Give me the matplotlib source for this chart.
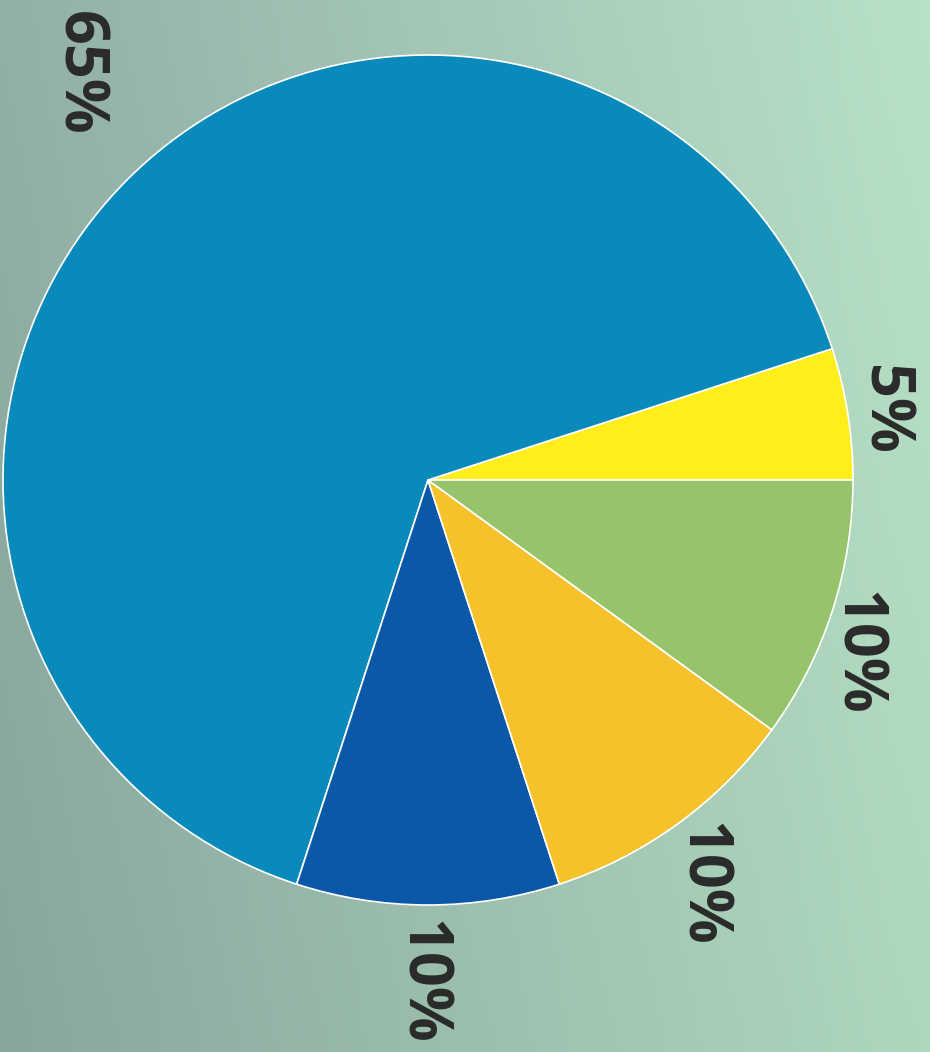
import numpy as np
import matplotlib
matplotlib.use("Agg")
import matplotlib.pyplot as plt
from matplotlib.colors import to_rgb

# slices, counter-clockwise starting at 3 o'clock
labels = ["5%", "65%", "10%", "10%", "10%"]
shares = [5, 65, 10, 10, 10]
colors = ["#ffee1c", "#0a89bb", "#0b58a9", "#f6c22b", "#97c46b"]
# label placement (relative to radius) and angle shift from wedge middle, degrees
label_dist = [1.105, 1.25, 1.183, 1.16, 1.105]
label_shift = [-0.4, -5.0, 0.2, -1.2, -3.6]
text_dx = -9  # rotated text bbox carries descender room, pull it back

W, H = 930, 1052
fig = plt.figure(figsize=(W / 100, H / 100), dpi=100)
ax = fig.add_axes([0, 0, 1, 1])

# background: gray-teal on the left fading to light green on the right
c_left = np.array(to_rgb("#8ba89f"))
c_right = np.array(to_rgb("#b0dac0"))
t = np.linspace(0, 1, 256)
grad = c_left[None, None, :] * (1 - t)[None, :, None] + c_right[None, None, :] * t[None, :, None]
# slightly lighter towards the top
v = np.linspace(0.03, -0.01, 256)[:, None, None]
grad = np.clip(grad + v, 0, 1)
ax.imshow(grad, extent=[0, W, 0, H], aspect="auto", zorder=0)

cx, cy, r = 428, H - 480, 425
wedges, _ = ax.pie(shares, colors=colors, startangle=0, counterclock=True,
                   center=(cx, cy), radius=r, frame=True,
                   wedgeprops=dict(edgecolor="white", linewidth=1.2))
ax.set_xlim(0, W)
ax.set_ylim(0, H)
ax.set_aspect("equal")
ax.axis("off")

for w, lab, d, s in zip(wedges, labels, label_dist, label_shift):
    mid = np.deg2rad((w.theta1 + w.theta2) / 2 + s)
    ax.text(cx + d * r * np.cos(mid) + text_dx, cy + d * r * np.sin(mid), lab,
            rotation=-90, ha="center", va="center", fontsize=44,
            fontweight="bold", color="#2a2a2a", family="Open Sans")

fig.savefig("out.png", dpi=100)
